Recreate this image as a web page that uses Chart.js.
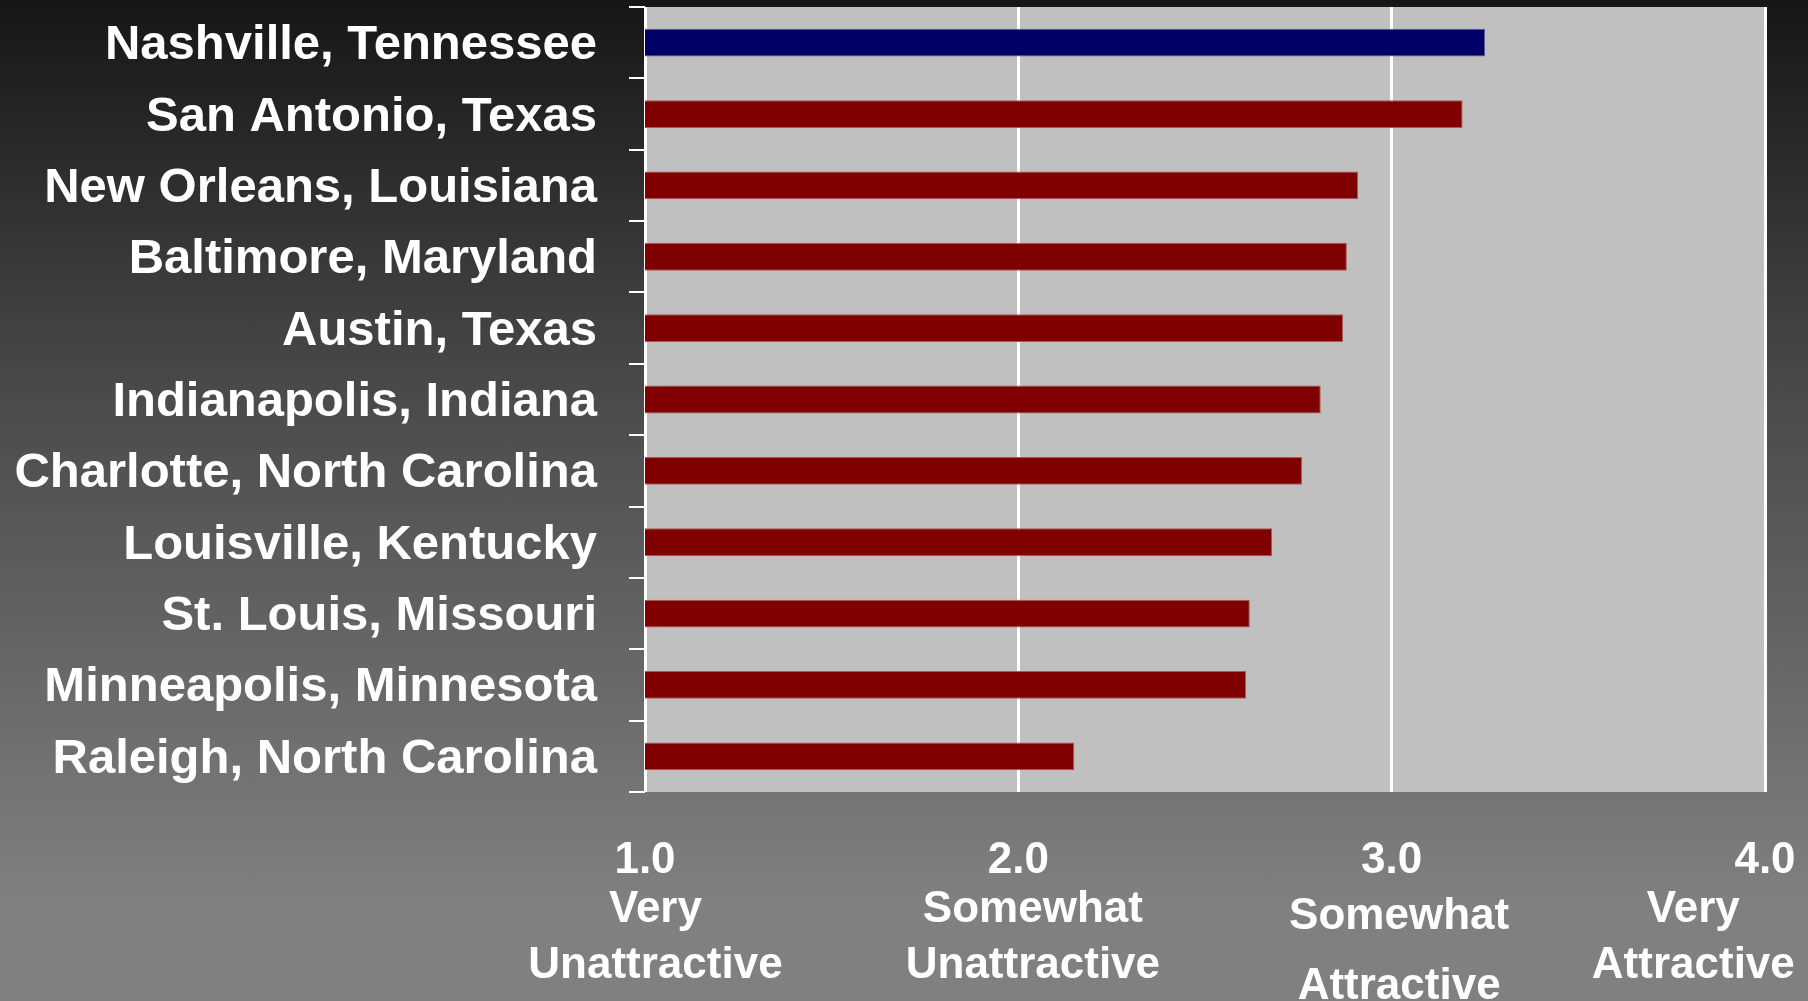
<!DOCTYPE html>
<html>
<head>
<meta charset="utf-8">
<script src="https://cdn.jsdelivr.net/npm/chart.js@4.4.1/dist/chart.umd.min.js"></script>
<style>
  html, body { margin: 0; padding: 0; }
  body {
    width: 1808px; height: 1001px; overflow: hidden;
    background: linear-gradient(to bottom, #161616 0%, #4b4b4b 40%, #808080 90%, #808080 100%);
  }
  #wrap { position: relative; width: 1808px; height: 1001px; }
  canvas { display: block; }
</style>
</head>
<body>
<div id="wrap"><canvas id="cityChart" width="1808" height="1001"></canvas></div>
<script>
  const cities = [
    "Nashville, Tennessee",
    "San Antonio, Texas",
    "New Orleans, Louisiana",
    "Baltimore, Maryland",
    "Austin, Texas",
    "Indianapolis, Indiana",
    "Charlotte, North Carolina",
    "Louisville, Kentucky",
    "St. Louis, Missouri",
    "Minneapolis, Minnesota",
    "Raleigh, North Carolina"
  ];
  const scores = [3.25, 3.19, 2.91, 2.88, 2.87, 2.81, 2.76, 2.68, 2.62, 2.61, 2.15];
  const tickLabels = ["1.0", "2.0", "3.0", "4.0"];
  const scaleLabels = [
    ["Very", "Unattractive"],
    ["Somewhat", "Unattractive"],
    ["Somewhat", "Attractive"],
    ["Very", "Attractive"]
  ];

  const FONT = "'Liberation Sans', Arial, sans-serif";

  // grey plot background
  const plotBg = {
    id: "plotBg",
    beforeDraw(chart) {
      const { ctx, chartArea: a } = chart;
      ctx.save();
      ctx.fillStyle = "#c0c0c0";
      ctx.fillRect(a.left, a.top, a.right - a.left + 2, a.bottom - a.top);
      ctx.restore();
    }
  };

  const ctx = document.getElementById("cityChart").getContext("2d");
  const myChart = new Chart(ctx, {
    type: "bar",
    data: {
      labels: cities,
      datasets: [
        {
          data: scores,
          backgroundColor: scores.map((v, i) => (i === 0 ? "#000066" : "#800000")),
          borderColor: scores.map((v, i) => (i === 0 ? "#5a5a90" : "#a85a5a")),
          borderWidth: 1,
          barPercentage: 0.39,
          categoryPercentage: 1.0,
        },
      ],
    },
    options: {
      indexAxis: "y",
      responsive: false,
      animation: false,
      layout: { padding: { top: 7, right: 43, left: 0, bottom: 0 } },
      plugins: {
        legend: { display: false },
        tooltip: { enabled: false },
      },
      scales: {
        y: {
          position: "left",
          grid: {
            drawOnChartArea: false,
            drawTicks: true,
            tickLength: 16,
            color: "#ffffff",
            lineWidth: 2,
          },
          border: { display: false },
          ticks: {
            color: "#ffffff",
            padding: 32,
            labelOffset: 3,
            font: { family: FONT, size: 49, weight: "bold" },
          },
          afterFit(scale) {
            scale.width = 645;
            scale.paddingTop = 0;
            scale.paddingBottom = 0;
          },
        },
        x: {
          type: "linear",
          position: "bottom",
          min: 1,
          max: 4,
          weight: 1,
          grid: { color: "#ffffff", lineWidth: 3, drawTicks: false },
          border: { display: false },
          ticks: {
            stepSize: 1,
            color: "#ffffff",
            padding: 41,
            maxRotation: 0,
            font: { family: FONT, size: 44, weight: "bold", lineHeight: 56 / 44 },
            callback: (v, i) => tickLabels[i],
          },
          afterFit(scale) {
            scale.height = 86;
            scale.paddingLeft = 0;
            scale.paddingRight = 0;
          },
        },
        xDesc: {
          type: "linear",
          axis: "x",
          position: "bottom",
          min: 1,
          max: 4,
          weight: 2,
          grid: { display: false, drawTicks: false },
          border: { display: false },
          afterBuildTicks(scale) {
            // text under each number sits slightly off-centre (last one pulled inside)
            const anchor = [1.028, 2.039, 3.02, 3.808];
            scale.ticks = anchor.map((v) => ({ value: v }));
          },
          ticks: {
            color: "#ffffff",
            padding: 4,
            maxRotation: 0,
            autoSkip: false,
            font: (c) => ({
              family: FONT,
              size: 44,
              weight: "bold",
              lineHeight: (c.index === 2 ? 70 : 56) / 44,
            }),
            callback: (v, i) => scaleLabels[i],
          },
          afterFit(scale) {
            scale.height = 123;
            scale.paddingLeft = 0;
            scale.paddingRight = 0;
          },
        },
      },
    },
    plugins: [plotBg],
  });
</script>
</body>
</html>
